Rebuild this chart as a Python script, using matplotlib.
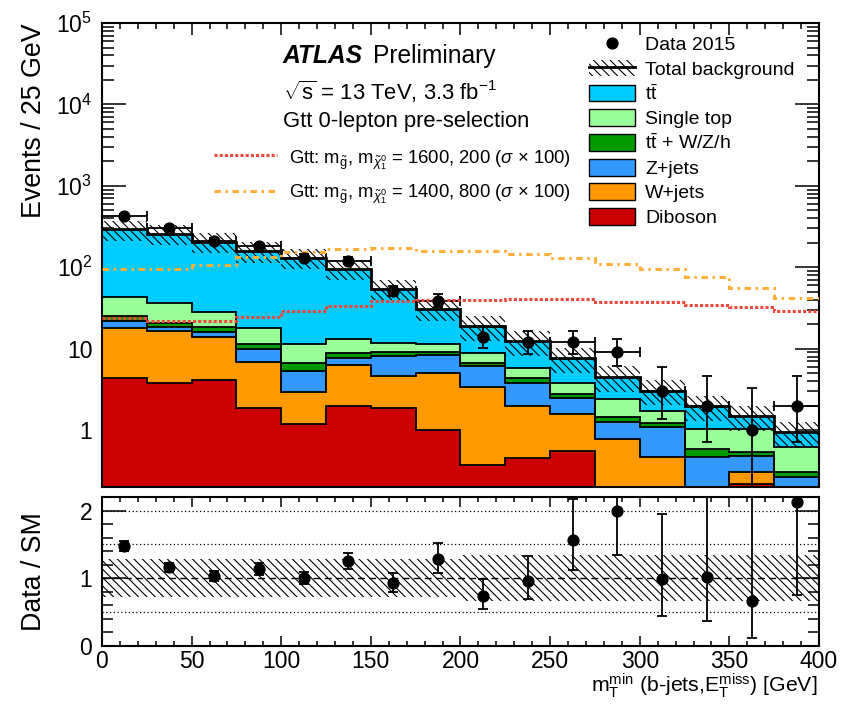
import math
import numpy as np
import matplotlib
matplotlib.use("Agg")
import matplotlib.pyplot as plt
from matplotlib.ticker import MultipleLocator, LogLocator, NullFormatter, FuncFormatter, FixedLocator
from matplotlib.patches import Patch
from matplotlib.lines import Line2D

plt.rcParams['font.family'] = ['Liberation Sans', 'DejaVu Sans']
plt.rcParams['mathtext.fontset'] = 'custom'
plt.rcParams['mathtext.rm'] = 'Liberation Sans'
plt.rcParams['mathtext.it'] = 'Liberation Sans:italic'
plt.rcParams['mathtext.bf'] = 'Liberation Sans:bold'
plt.rcParams['mathtext.sf'] = 'Liberation Sans'
plt.rcParams['hatch.linewidth'] = 0.8

# ---------------- data ----------------
bin_edges = np.arange(0, 425, 25)
data_2015 = [430, 300, 213, 180, 131, 121, 51, 39, 14, 12, 12, 9, 3, 2, 1, 2]
diboson = [4.31, 3.81, 4.07, 1.85, 1.20, 1.97, 1.85, 1.00, 0.372, 0.449, 0.557, 0, 0, 0, 0.217, 0]
wjets = [13.7, 12.6, 9.9, 5.04, 1.70, 4.25, 2.79, 3.96, 3.03, 1.54, 1.04, 0.768, 0.471, 0, 0.091, 0]
zjets = [3.9, 2.1, 1.94, 3.06, 2.35, 1.42, 3.45, 3.36, 2.75, 1.82, 0.85, 0.49, 0.63, 0.46, 0.172, 0.267]
ttv = [3.2, 2.3, 2.5, 1.55, 1.44, 1.16, 0.89, 0.82, 0.55, 0.50, 0.29, 0.20, 0.12, 0.12, 0.062, 0.041]
single_top = [18.1, 15.7, 9.9, 6.5, 4.81, 4.4, 2.82, 2.36, 2.03, 1.51, 1.03, 0.92, 0.51, 0.44, 0.478, 0.317]
ttbar = [249, 222, 177, 140, 119.5, 83.2, 42.9, 19.0, 10.2, 6.6, 3.87, 2.13, 1.31, 0.93, 0.47, 0.315]
bkg_rel_unc = [0.28, 0.28, 0.28, 0.28, 0.28, 0.28, 0.28, 0.28, 0.34, 0.34, 0.34, 0.34, 0.34, 0.34, 0.34, 0.34]
sig_1600_200 = [23.5, 21.9, 21.9, 24.6, 28.8, 33.2, 38.6, 39.4, 39.4, 41.2, 41.2, 37.6, 37.6, 34.2, 32.6, 29.1]
sig_1400_800 = [96.4, 93.9, 106, 134, 154, 166, 174, 158, 158, 144, 131, 111, 94, 76, 56.4, 42]

bkg_labels = ['Diboson', 'W+jets', 'Z+jets', r't$\bar{\mathrm{t}}$ + W/Z/h', 'Single top', r't$\bar{\mathrm{t}}$']
bkg_colors = ['#CC0000', '#FF9900', '#3399FF', '#009900', '#99FF99', '#00CCFF']
sig_labels = [r'Gtt: m$_{\tilde{\mathrm{g}}}$, m$_{\tilde{\chi}^{0}_{1}}$ = 1600, 200 ($\sigma$ × 100)',
              r'Gtt: m$_{\tilde{\mathrm{g}}}$, m$_{\tilde{\chi}^{0}_{1}}$ = 1400, 800 ($\sigma$ × 100)']
sig_colors = ['#F0463C', '#FFB03B']
sig_styles = [(0, (1.0, 0.7)), (0, (2.1, 1.5, 0.8, 1.5))]
x_ticks = [0, 50, 100, 150, 200, 250, 300, 350, 400]

HATCH = '\\\\\\\\'


def pois_cdf(n, mu):
    if n < 0:
        return 0.0
    if mu <= 0:
        return 1.0
    lm = math.log(mu)
    s = 0.0
    for k in range(n + 1):
        s += math.exp(-mu + k * lm - math.lgamma(k + 1))
    return min(s, 1.0)


def garwood(n, cl=0.6827):
    a = (1 - cl) / 2
    hi_lim = n + 20 * math.sqrt(n + 1) + 20

    def solve(f, target):
        lo, hi = 1e-9, hi_lim
        for _ in range(100):
            mid = 0.5 * (lo + hi)
            if f(mid) > target:
                lo = mid
            else:
                hi = mid
        return 0.5 * (lo + hi)
    low = 0.0 if n == 0 else solve(lambda m: pois_cdf(n - 1, m), 1 - a)
    up = solve(lambda m: pois_cdf(n, m), a)
    return low, up


edges = bin_edges.astype(float)
centers = 0.5 * (edges[:-1] + edges[1:])
half_w = 0.5 * np.diff(edges)
data = np.array(data_2015, dtype=float)
comps = [np.array(c, dtype=float) for c in (diboson, wjets, zjets, ttv, single_top, ttbar)]
total = np.sum(comps, axis=0)
unc = np.array(bkg_rel_unc)
gw = np.array([garwood(int(n)) for n in data_2015])
err_lo = data - gw[:, 0]
err_hi = gw[:, 1] - data

fig = plt.figure(figsize=(8.42, 7.07), dpi=100)
W, H = 842.0, 707.0
ax = fig.add_axes([102 / W, 1 - 487 / H, 717 / W, (487 - 23) / H])
axr = fig.add_axes([102 / W, 1 - 646 / H, 717 / W, (646 - 497) / H])

# ---------------- top panel ----------------
floor = 1e-3
base = np.full(len(centers), floor)
for vals, col in zip(comps, bkg_colors):
    top = base + vals
    ax.stairs(top, edges, baseline=base, fill=True, facecolor=col, edgecolor=col, lw=0.3, zorder=2)
    base = top
base = np.full(len(centers), floor)
for vals in comps[:-1]:
    top = base + vals
    ax.stairs(top, edges, baseline=None, color='black', lw=1.3, zorder=3)
    base = top
ax.stairs(total + floor, edges, baseline=None, color='black', lw=2.0, zorder=4)
ax.stairs(total * (1 + unc), edges, baseline=total * (1 - unc), fill=True, facecolor='none',
          edgecolor='black', hatch=HATCH, lw=0, zorder=4)

for sig, col, ls in zip((sig_1600_200, sig_1400_800), sig_colors, sig_styles):
    ax.stairs(sig, edges, baseline=None, color=col, lw=2.2, linestyle=ls, zorder=5)

ax.errorbar(centers, data, xerr=half_w, fmt='none', ecolor='black', elinewidth=1.3,
            capsize=3.5, capthick=1.3, zorder=1.5)
ax.errorbar(centers, data, yerr=[err_lo, err_hi], fmt='o', color='black', ms=7.8,
            elinewidth=1.3, capsize=3.5, capthick=1.3, zorder=6)

ax.set_yscale('log')
ax.set_xlim(0, 400)
ax.set_ylim(0.2, 1e5)
ax.yaxis.set_major_locator(LogLocator(base=10, numticks=12))
ax.yaxis.set_minor_locator(LogLocator(base=10, subs=np.arange(2, 10), numticks=40))
ax.yaxis.set_minor_formatter(NullFormatter())


def log_fmt(v, p):
    e = int(round(math.log10(v)))
    if e == 0:
        return '1'
    if e == 1:
        return '10'
    return r'$\mathregular{10^{%d}}$' % e


ax.yaxis.set_major_formatter(FuncFormatter(log_fmt))
ax.xaxis.set_major_locator(MultipleLocator(50))
ax.xaxis.set_minor_locator(MultipleLocator(10))
ax.tick_params(axis='both', which='both', direction='in', top=True, right=True,
               labelbottom=False, width=1.1)
ax.tick_params(axis='x', which='major', length=8.6)
ax.tick_params(axis='x', which='minor', length=4.3)
ax.tick_params(axis='y', which='major', length=17, labelsize=16.5, pad=7)
ax.tick_params(axis='y', which='minor', length=8.6)
for sp in ax.spines.values():
    sp.set_linewidth(1.5)
ax.set_ylabel('Events / 25 GeV', fontsize=19.3, loc='top')
ax.yaxis.set_label_coords(-0.077, 1.0)

# legend (right)
handles = [Line2D([], [], marker='o', color='black', ls='none', ms=7.8),
           (Patch(facecolor='none', edgecolor='black', hatch=HATCH, lw=0),
            Line2D([], [], color='black', lw=2.0))]
labels = ['Data 2015', 'Total background']
for lab, col in zip(bkg_labels[::-1], bkg_colors[::-1]):
    handles.append(Patch(facecolor=col, edgecolor='black', lw=1.0))
    labels.append(lab)
ax.legend(handles, labels, loc='upper left', bbox_to_anchor=(0.679, 0.974), fontsize=14,
          frameon=False, handlelength=2.37, handleheight=0.95, handletextpad=0.52,
          labelspacing=0.28, borderpad=0, borderaxespad=0)

# ATLAS texts
fig.text(283 / W, 1 - 63 / H, 'ATLAS', fontsize=17.7, fontweight='bold', fontstyle='italic',
         va='baseline', ha='left')
fig.text(373 / W, 1 - 63 / H, 'Preliminary', fontsize=17.7, va='baseline', ha='left')
fig.text(283 / W, 1 - 100 / H, r'$\sqrt{\mathrm{s}}$ = 13 TeV, 3.3 fb$^{-1}$', fontsize=15.8,
         va='baseline', ha='left')
fig.text(283 / W, 1 - 127 / H, 'Gtt 0-lepton pre-selection', fontsize=15.8,
         va='baseline', ha='left')
for i, (lab, col, ls) in enumerate(zip(sig_labels, sig_colors, sig_styles)):
    yl = [155, 191][i]
    yb = [163, 198][i]
    fig.add_artist(Line2D([214 / W, 277 / W], [1 - yl / H, 1 - yl / H], transform=fig.transFigure,
                          color=col, lw=2.2, linestyle=ls))
    fig.text(289 / W, 1 - yb / H, lab, fontsize=13.3, va='baseline', ha='left')

# ---------------- ratio panel ----------------
ratio = data / total
r_lo = err_lo / total
r_hi = err_hi / total
axr.stairs(1 + unc, edges, baseline=1 - unc, fill=True, facecolor='none', edgecolor='black',
           hatch=HATCH, lw=0, zorder=2)
for yv in (0.5, 1.5, 2.0):
    axr.axhline(yv, color='black', lw=0.9, linestyle=(0, (1, 2)), zorder=1)
axr.axhline(1.0, color='black', lw=1.0, linestyle=(0, (5, 3)), zorder=1)
axr.errorbar(centers, ratio, yerr=[r_lo, r_hi], fmt='o', color='black', ms=7.8,
             elinewidth=1.3, capsize=3.5, capthick=1.3, zorder=5)
axr.set_xlim(0, 400)
axr.set_ylim(0, 2.2)
axr.yaxis.set_major_locator(FixedLocator([0, 1, 2]))
axr.yaxis.set_minor_locator(MultipleLocator(0.2))
axr.xaxis.set_major_locator(FixedLocator(x_ticks))
axr.xaxis.set_minor_locator(MultipleLocator(10))
axr.set_xticklabels([str(t) for t in x_ticks])
axr.set_yticklabels(['0', '1', '2'])
axr.tick_params(axis='both', which='both', direction='in', top=True, right=True, width=1.1)
axr.tick_params(axis='x', which='major', length=7.2, labelsize=16.5, pad=3)
axr.tick_params(axis='x', which='minor', length=3.6)
axr.tick_params(axis='y', which='major', length=17, labelsize=16.5, pad=7)
axr.tick_params(axis='y', which='minor', length=8)
for sp in axr.spines.values():
    sp.set_linewidth(1.5)
axr.set_ylabel('Data / SM', fontsize=19.3)
axr.yaxis.set_label_coords(-0.077, 0.5)

fig.text(818 / W, 1 - 692 / H,
         r'm$_{\mathrm{T}}^{\mathrm{min}}$ (b-jets,E$_{\mathrm{T}}^{\mathrm{miss}}$) [GeV]',
         fontsize=15.3, ha='right', va='baseline')

fig.savefig('out.png', dpi=100)
